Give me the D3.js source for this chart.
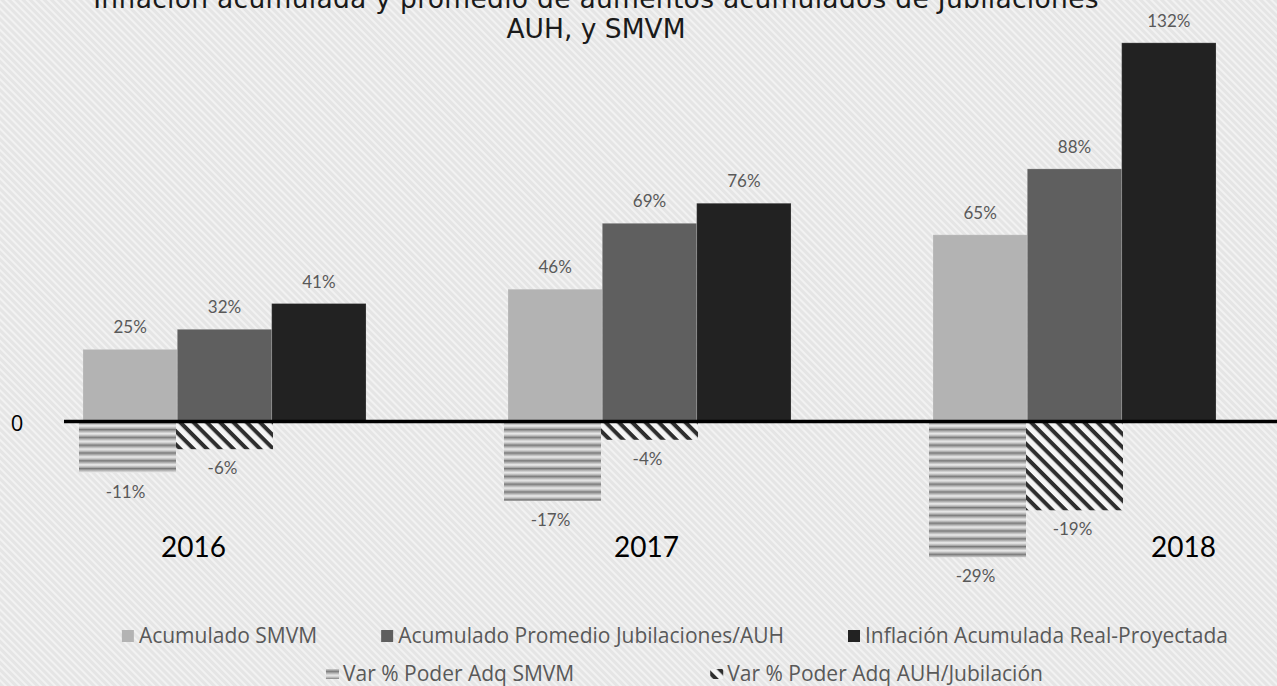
<!DOCTYPE html>
<html>
<head>
<meta charset="utf-8">
<script src="https://cdn.jsdelivr.net/npm/d3@7"></script>
<style>
  html, body { margin: 0; padding: 0; background: #e8e8e8; }
  svg { display: block; }
</style>
</head>
<body>
<svg id="chart" width="1277" height="686"></svg>
<script>
// values
const years = ["2016", "2017", "2018"];
const acumSMVM = [25, 46, 65];
const acumJubAUH = [32, 69, 88];
const inflacion = [41, 76, 132];
const varSMVM = [-11, -17, -29];
const varAUH = [-6, -4, -19];

const titleLines = ["Inflación acumulada y promedio de aumentos acumulados de Jubilaciones", "AUH, y SMVM"];
const posNames = ["Acumulado SMVM", "Acumulado Promedio Jubilaciones/AUH", "Inflación Acumulada Real-Proyectada"];
const negNames = ["Var % Poder Adq SMVM", "Var % Poder Adq AUH/Jubilación"];
const posColors = ["#b3b3b3", "#5f5f5f", "#222222"];

// year labels were dragged around by hand in the original
const yearShift = { "2016": -31, "2017": -3, "2018": 109 };

const svg = d3.select("#chart");
const width = +svg.attr("width");
const height = +svg.attr("height");
const zeroY = 421;
const font = "Lato, 'Noto Sans', sans-serif";
const legFont = "'Open Sans', 'Noto Sans', sans-serif";
const titleFont = "'DejaVu Sans', 'Noto Sans', sans-serif";

const defs = svg.append("defs");

// background texture
const bg = defs.append("pattern")
  .attr("id", "bgTex").attr("patternUnits", "userSpaceOnUse")
  .attr("width", 5).attr("height", 5)
  .attr("patternTransform", "rotate(45)");
bg.append("rect").attr("width", 5).attr("height", 5).attr("fill", "#e5e5e5");
bg.append("rect").attr("y", 0).attr("width", 5).attr("height", 2).attr("fill", "#f2f2f2");

// horizontal stripes for SMVM loss
const grad = defs.append("linearGradient")
  .attr("id", "stripeGrad").attr("x1", 0).attr("y1", 0).attr("x2", 0).attr("y2", 1);
grad.append("stop").attr("offset", 0).attr("stop-color", "#6c6c6c");
grad.append("stop").attr("offset", 0.3).attr("stop-color", "#b0b0b0");
grad.append("stop").attr("offset", 0.6).attr("stop-color", "#eeeeee");
grad.append("stop").attr("offset", 1).attr("stop-color", "#9a9a9a");
const hs = defs.append("pattern")
  .attr("id", "hStripes").attr("patternUnits", "userSpaceOnUse")
  .attr("width", 10).attr("height", 7.8);
hs.append("rect").attr("width", 10).attr("height", 7.8).attr("fill", "url(#stripeGrad)");

// diagonal hatch for AUH loss
const dh = defs.append("pattern")
  .attr("id", "dHatch").attr("patternUnits", "userSpaceOnUse")
  .attr("width", 9.4).attr("height", 9.4)
  .attr("patternTransform", "rotate(45)");
dh.append("rect").attr("width", 9.4).attr("height", 9.4).attr("fill", "#f4f4f4");
dh.append("rect").attr("width", 9.4).attr("height", 4).attr("fill", "#2e2e2e");

svg.append("rect").attr("width", width).attr("height", height).attr("fill", "url(#bgTex)");

// scales
const x0 = d3.scaleBand().domain(years).range([12, 1287]).paddingInner(0.334).paddingOuter(0.167);
const x1 = d3.scaleBand().domain([0, 1, 2]).range([0, x0.bandwidth()]);
const negW = 291;
const x1n = d3.scaleBand().domain([0, 1, 2]).range([0, negW]);
const y = d3.scaleLinear().domain([0, 140]).range([zeroY, zeroY - 140 * 2.865]);
const y2 = d3.scaleLinear().domain([-30, 0]).range([zeroY + 30 * 4.7, zeroY]);

const posSeries = [acumSMVM, acumJubAUH, inflacion];
const negSeries = [varSMVM, varAUH];
const negFills = ["url(#hStripes)", "url(#dHatch)"];

// positive bars
posSeries.forEach((vals, s) => {
  const g = svg.append("g");
  g.selectAll("rect").data(vals).enter().append("rect")
    .attr("x", (d, i) => x0(years[i]) + x1(s))
    .attr("y", d => y(d))
    .attr("width", x1.bandwidth())
    .attr("height", d => y(0) - y(d))
    .attr("fill", posColors[s])
    .attr("stroke", "rgba(255,255,255,0.18)")
    .attr("stroke-width", 1);
  g.selectAll("text").data(vals).enter().append("text")
    .attr("x", (d, i) => x0(years[i]) + x1(s) + x1.bandwidth() / 2)
    .attr("y", d => y(d) - 16)
    .attr("text-anchor", "middle")
    .style("font-family", font).style("font-size", "17px").style("fill", "#595959")
    .text(d => d + "%");
});

// negative bars (secondary axis)
negSeries.forEach((vals, s) => {
  const g = svg.append("g");
  const off = x0.bandwidth() / 2 - negW / 2;
  g.selectAll("rect").data(vals).enter().append("rect")
    .attr("x", (d, i) => x0(years[i]) + off + x1n(s))
    .attr("y", y2(0))
    .attr("width", x1n.bandwidth())
    .attr("height", d => y2(d) - y2(0))
    .attr("fill", negFills[s]);
  g.selectAll("text").data(vals).enter().append("text")
    .attr("x", (d, i) => x0(years[i]) + off + x1n(s) + x1n.bandwidth() / 2 - 2)
    .attr("y", d => y2(d) + 25)
    .attr("text-anchor", "middle")
    .style("font-family", font).style("font-size", "17px").style("fill", "#595959")
    .text(d => d + "%");
});

// zero line
svg.append("line")
  .attr("x1", 64).attr("x2", width)
  .attr("y1", y(0) + 0.5).attr("y2", y(0) + 0.5)
  .attr("stroke", "#000").attr("stroke-width", 3.5);
svg.append("text")
  .attr("x", 17).attr("y", y(0) + 10)
  .attr("text-anchor", "middle")
  .style("font-family", legFont).style("font-size", "22px").style("fill", "#000")
  .text("0");

// year labels
svg.append("g").selectAll("text").data(years).enter().append("text")
  .attr("x", d => x0(d) + x0.bandwidth() / 2 + yearShift[d])
  .attr("y", 557)
  .attr("text-anchor", "middle")
  .style("font-family", font).style("font-size", "28px").style("fill", "#000")
  .text(d => d);

// title (top line is cut by the frame, as in the original)
svg.append("g").selectAll("text").data(titleLines).enter().append("text")
  .attr("x", 596)
  .attr("y", (d, i) => 8 + i * 30)
  .attr("text-anchor", "middle")
  .style("font-family", titleFont).style("font-size", "26.5px").style("fill", "#1a1a1a")
  .style("letter-spacing", (d, i) => i == 0 ? "0.3px" : "0px")
  .text(d => d);

// legend
const leg = svg.append("g").style("font-family", legFont).style("font-size", "21px").style("fill", "#595959");
const gap = 64;

function textW(str) {
  const t = leg.append("text").text(str);
  const w = t.node().getComputedTextLength();
  t.remove();
  return w;
}

// row 1, laid out backwards from the last marker
let mx = 848;
const row1 = [];
for (let i = posNames.length - 1; i >= 0; i--) {
  row1.unshift(mx);
  if (i > 0) mx = mx - gap - textW(posNames[i - 1]) - 17;
}
row1.forEach((m, i) => {
  leg.append("rect").attr("x", m).attr("y", 630).attr("width", 12).attr("height", 12).attr("fill", posColors[i]);
  leg.append("text").attr("x", m + 17).attr("y", 643).text(posNames[i]);
});

// row 2 entries sit where the reference has them
const row2 = [326, 760 - textW("Var ") - 17];
row2.forEach((m, i) => {
  leg.append("rect").attr("x", m).attr("y", 669).attr("width", 13).attr("height", 10).attr("fill", negFills[i]);
  leg.append("text").attr("x", m + 17).attr("y", 681).text(negNames[i]);
});
</script>
</body>
</html>
